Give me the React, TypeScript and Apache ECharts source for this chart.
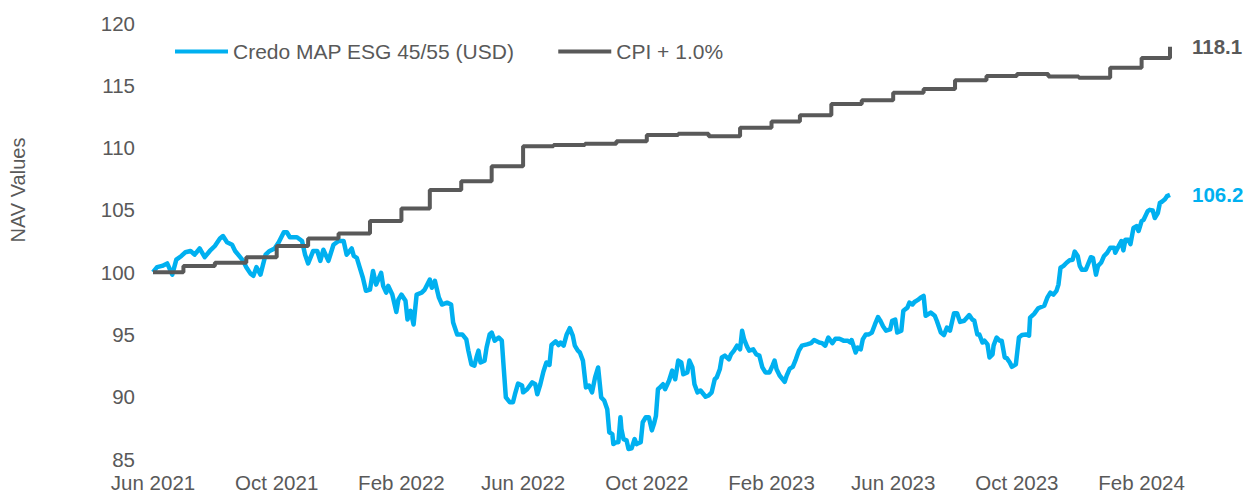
import React, { useEffect, useRef } from "react";
import * as echarts from "echarts";

const FONT = "'Liberation Sans', Arial, sans-serif";
const TEXT_COLOR = "#595959";
const BLUE = "#00B0F0";
const GREY = "#595959";

const START_DATE = "2021-06-01";
const END_DATE = "2024-02-29";
const DAY_MS = 86400000;

const seriesNames = ["Credo MAP ESG 45/55 (USD)", "CPI + 1.0%"];
const yAxisTitle = "NAV Values";
const monthNames = ["Jan", "Feb", "Mar", "Apr", "May", "Jun", "Jul", "Aug", "Sep", "Oct", "Nov", "Dec"];
const tickDates = [
  "2021-06-01", "2021-10-01", "2022-02-01", "2022-06-01", "2022-10-01",
  "2023-02-01", "2023-06-01", "2023-10-01", "2024-02-01",
];

// CPI + 1.0% : monthly levels (value holds from the given date until the next one)
const cpiDates = [
  "2021-06-01", "2021-07-01", "2021-08-01", "2021-09-01", "2021-10-01", "2021-11-01", "2021-12-01",
  "2022-01-01", "2022-02-01", "2022-03-01", "2022-04-01", "2022-05-01", "2022-06-01", "2022-07-01",
  "2022-08-01", "2022-09-01", "2022-10-01", "2022-11-01", "2022-12-01", "2023-01-01", "2023-02-01",
  "2023-03-01", "2023-04-01", "2023-05-01", "2023-06-01", "2023-07-01", "2023-08-01", "2023-09-01",
  "2023-10-01", "2023-11-01", "2023-12-01", "2024-01-01", "2024-02-01", "2024-02-29",
];
const cpiValues = [
  100.0, 100.5, 100.75, 101.2, 102.1, 102.7, 103.1,
  104.1, 105.1, 106.6, 107.3, 108.5, 110.1, 110.2,
  110.3, 110.5, 111.0, 111.1, 110.9, 111.6, 112.1,
  112.6, 113.5, 113.8, 114.4, 114.7, 115.4, 115.75,
  115.9, 115.7, 115.6, 116.4, 117.2, 118.1,
];

// Credo MAP ESG 45/55 (USD) NAV: [days since START_DATE, NAV]
const navObservations: [number, number][] = [
  [0, 100.0], [4, 100.4], [9, 100.5], [14, 100.7], [19, 99.8], [23, 101.0], [28, 101.3], [32, 101.6],
  [37, 101.7], [41, 101.4], [46, 101.9], [51, 101.2], [56, 101.7], [61, 102.1], [66, 102.7], [69, 102.9],
  [73, 102.4], [78, 102.2], [81, 101.7], [85, 101.3], [89, 100.9], [92, 100.4], [96, 99.9], [99, 99.7],
  [102, 100.4], [106, 99.8], [111, 101.4], [115, 101.7], [120, 101.9], [124, 102.4], [129, 103.2], [132, 103.2],
  [135, 102.8], [142, 102.8], [147, 102.5], [150, 101.4], [153, 100.7], [158, 101.7], [162, 101.7], [165, 100.9],
  [168, 101.8], [173, 100.9], [178, 102.2], [183, 102.5], [188, 102.5], [191, 101.4], [196, 101.9], [198, 101.3],
  [201, 101.15], [204, 100.35], [207, 99.55], [210, 98.5], [214, 98.6], [217, 100.1], [220, 99.0], [225, 99.95],
  [227, 98.9], [230, 98.35], [232, 98.9], [236, 98.2], [240, 96.8], [242, 97.8], [245, 98.2], [249, 97.7],
  [251, 96.2], [254, 96.9], [257, 95.8], [260, 98.2], [265, 98.35], [268, 98.6], [273, 99.4], [275, 98.75],
  [278, 99.3], [282, 97.95], [285, 97.4], [290, 97.55], [294, 97.4], [296, 95.95], [300, 95.0], [305, 95.0],
  [309, 94.6], [311, 93.7], [314, 92.6], [317, 92.5], [319, 93.15], [321, 93.7], [323, 92.75], [327, 92.9],
  [329, 93.95], [332, 95.0], [334, 95.15], [337, 94.5], [341, 94.75], [344, 94.5], [346, 92.2], [348, 89.95],
  [352, 89.55], [355, 89.55], [357, 90.2], [360, 91.05], [364, 90.9], [365, 90.35], [369, 90.6], [374, 91.15],
  [377, 91.0], [379, 90.2], [382, 91.0], [385, 92.0], [388, 92.75], [391, 92.55], [393, 94.15], [397, 94.45],
  [400, 94.15], [402, 94.35], [405, 94.1], [408, 95.0], [411, 95.5], [414, 94.9], [416, 94.1], [419, 93.7],
  [421, 93.55], [424, 92.9], [427, 90.75], [430, 90.9], [433, 90.35], [436, 91.55], [439, 92.35], [442, 89.95],
  [445, 89.7], [448, 89.0], [450, 87.15], [453, 87.0], [454, 86.2], [457, 86.35], [459, 86.35], [461, 88.35],
  [462, 87.4], [464, 86.6], [467, 86.5], [469, 85.8], [472, 85.85], [475, 86.6], [477, 86.2], [481, 86.35],
  [483, 87.95], [486, 88.35], [489, 88.35], [492, 87.3], [494, 87.8], [496, 88.45], [498, 90.6], [500, 90.75],
  [503, 91.0], [505, 90.6], [509, 91.3], [512, 92.1], [515, 91.4], [518, 92.9], [521, 92.75], [523, 91.8],
  [527, 91.95], [529, 92.9], [532, 92.35], [534, 91.0], [537, 90.35], [540, 90.5], [545, 90.0], [548, 90.1],
  [551, 90.35], [554, 91.4], [556, 91.55], [559, 92.2], [561, 93.15], [564, 93.3], [568, 93.0], [570, 93.4],
  [573, 93.7], [576, 94.1], [579, 93.8], [581, 95.3], [583, 94.6], [586, 94.0], [588, 93.7], [592, 93.8],
  [595, 93.4], [598, 93.3], [601, 92.35], [604, 91.95], [608, 91.95], [611, 92.5], [613, 92.9], [615, 92.2],
  [618, 91.7], [621, 91.4], [623, 91.2], [625, 91.7], [628, 92.25], [631, 92.4], [634, 93.0], [637, 93.7],
  [640, 94.1], [645, 94.2], [649, 94.3], [652, 94.55], [657, 94.35], [660, 94.3], [663, 94.1], [666, 94.75],
  [670, 94.3], [673, 94.65], [677, 94.65], [681, 94.5], [685, 94.5], [688, 94.35], [689, 94.55], [693, 93.55],
  [695, 93.95], [698, 93.8], [700, 94.6], [703, 95.0], [706, 95.0], [709, 95.15], [712, 95.8], [715, 96.4],
  [717, 96.15], [720, 95.65], [723, 95.3], [727, 95.4], [729, 96.1], [732, 96.2], [734, 95.15], [738, 95.3],
  [740, 96.9], [744, 97.15], [746, 97.55], [749, 97.4], [751, 97.6], [754, 97.75], [757, 97.95], [760, 98.1],
  [762, 96.5], [764, 96.6], [767, 96.75], [771, 96.5], [773, 96.1], [777, 95.15], [780, 94.95], [783, 95.55],
  [786, 95.3], [790, 96.7], [793, 96.7], [796, 96.0], [800, 96.1], [805, 96.55], [808, 96.2], [810, 96.1],
  [813, 95.0], [815, 95.0], [818, 94.35], [820, 94.5], [823, 94.2], [825, 93.15], [828, 93.4], [829, 94.1],
  [832, 94.75], [835, 94.5], [837, 94.5], [840, 93.15], [842, 93.1], [845, 92.75], [847, 92.4], [851, 92.6],
  [854, 94.75], [857, 94.95], [861, 95.0], [864, 94.9], [865, 96.35], [869, 96.65], [873, 97.1], [876, 97.2],
  [879, 97.3], [882, 97.95], [885, 98.35], [888, 98.2], [891, 98.5], [893, 99.0], [895, 100.35], [898, 100.5],
  [901, 100.75], [904, 100.95], [907, 101.0], [909, 101.65], [912, 101.3], [914, 100.5], [916, 100.2], [920, 100.2],
  [922, 100.6], [925, 101.2], [927, 101.15], [930, 99.8], [932, 100.5], [935, 100.75], [938, 101.3], [941, 101.55],
  [944, 101.95], [948, 101.95], [949, 101.55], [953, 102.2], [955, 102.5], [957, 101.75], [959, 102.6], [962, 102.6],
  [964, 102.25], [967, 103.55], [970, 103.7], [972, 103.3], [975, 104.1], [977, 104.2], [981, 104.9], [983, 105.0],
  [986, 104.95], [988, 104.35], [991, 104.75], [993, 105.55], [995, 105.65], [998, 105.85], [1000, 106.1], [1003, 106.2],
];

const startMs = Date.parse(START_DATE);

export default function App() {
  const ref = useRef<HTMLDivElement>(null);

  useEffect(() => {
    document.body.style.margin = "0";
    if (!ref.current) return;
    const chart = echarts.init(ref.current, null, { renderer: "svg" });

    const navData = navObservations.map(([d, v]) => [startMs + d * DAY_MS, v]);
    const cpiData = cpiDates.map((d, i) => [Date.parse(d), cpiValues[i]]);
    const tickValues = tickDates.map((d) => Date.parse(d));

    const fmtMonth = (value: number) => {
      const dt = new Date(value);
      return `${monthNames[dt.getUTCMonth()]} ${dt.getUTCFullYear()}`;
    };

    chart.setOption({
      animation: false,
      textStyle: { fontFamily: FONT },
      grid: { left: 153, right: 77, top: 23, bottom: 33, containLabel: false },
      legend: {
        top: 41,
        left: 175,
        padding: 0,
        icon: "rect",
        itemWidth: 53,
        itemHeight: 4,
        itemGap: 44,
        textStyle: { fontSize: 21, color: TEXT_COLOR, fontFamily: FONT },
        data: seriesNames,
      },
      xAxis: {
        type: "value",
        min: Date.parse(START_DATE),
        max: Date.parse(END_DATE),
        axisLine: { show: false },
        axisTick: { show: false },
        splitLine: { show: false },
        axisLabel: {
          customValues: tickValues,
          formatter: fmtMonth,
          fontSize: 20.5,
          color: TEXT_COLOR,
          fontFamily: FONT,
          margin: 13,
          hideOverlap: false,
        },
      },
      yAxis: {
        type: "value",
        min: 85,
        max: 120,
        interval: 5,
        axisLine: { show: false },
        axisTick: { show: false },
        splitLine: { show: false },
        axisLabel: { fontSize: 20.5, color: TEXT_COLOR, fontFamily: FONT, margin: 18 },
      },
      graphic: [
        {
          type: "text",
          x: 18,
          y: 190,
          rotation: Math.PI / 2,
          style: {
            text: yAxisTitle,
            fontSize: 20,
            fill: TEXT_COLOR,
            fontFamily: FONT,
            align: "center",
            verticalAlign: "middle",
          },
        },
      ],
      series: [
        {
          name: seriesNames[0],
          type: "line",
          data: navData,
          symbol: "none",
          lineStyle: { width: 4.5, color: BLUE, join: "round" },
          itemStyle: { color: BLUE },
          z: 2,
          endLabel: {
            show: true,
            distance: 22,
            formatter: (p: any) => Number(p.value[1]).toFixed(1),
            fontSize: 20.5,
            fontWeight: "bold",
            color: BLUE,
            fontFamily: FONT,
          },
        },
        {
          name: seriesNames[1],
          type: "line",
          step: "end",
          data: cpiData,
          symbol: "none",
          lineStyle: { width: 4, color: GREY },
          itemStyle: { color: GREY },
          z: 3,
          endLabel: {
            show: true,
            distance: 22,
            formatter: (p: any) => Number(p.value[1]).toFixed(1),
            fontSize: 20.5,
            fontWeight: "bold",
            color: GREY,
            fontFamily: FONT,
          },
        },
      ],
    });

    return () => chart.dispose();
  }, []);

  return <div ref={ref} style={{ width: 1247, height: 493 }} />;
}
